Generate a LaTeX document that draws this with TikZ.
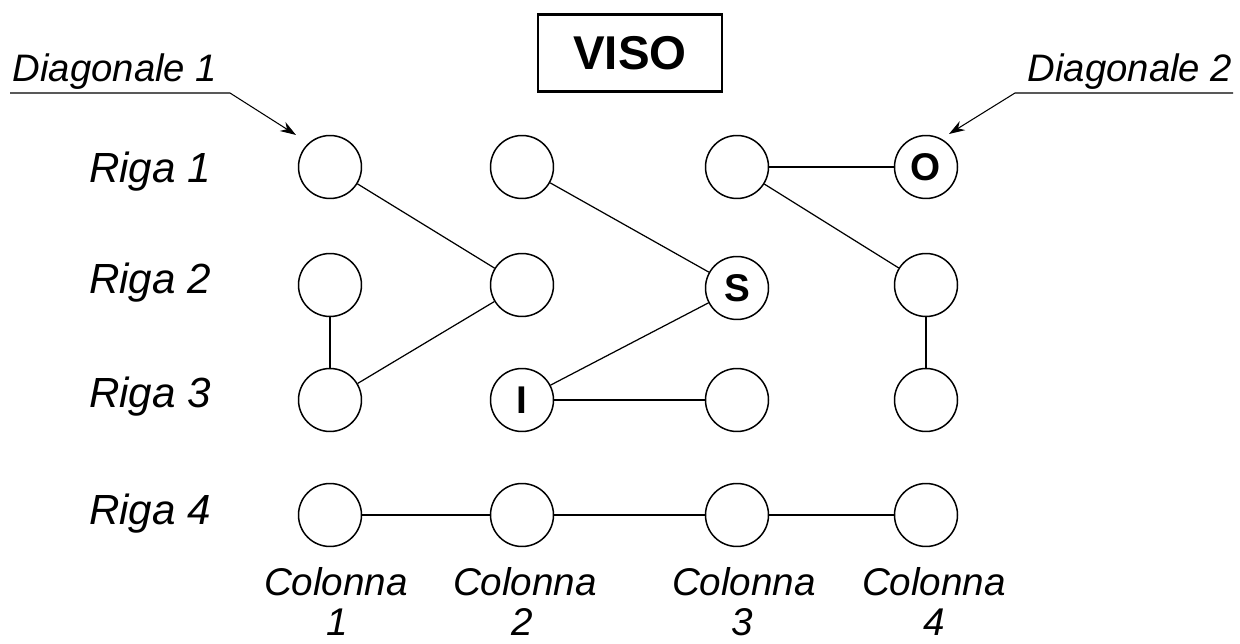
\documentclass[tikz,border=0pt]{standalone}
\usepackage{fontspec}
\setmainfont{Liberation Sans}
\usetikzlibrary{arrows.meta}
\begin{document}
\begin{tikzpicture}[x=0.02cm,y=-0.02cm,
  dot/.style={circle,draw,line width=0.85pt,minimum size=1.26cm,inner sep=0pt,font=\fontsize{22}{24}\selectfont\bfseries},
  link/.style={line width=0.7pt},
  lbl/.style={anchor=base,inner sep=0pt,font=\fontsize{22}{26}\selectfont\itshape},
  rlbl/.style={anchor=base,inner sep=0pt,font=\fontsize{24}{28}\selectfont\itshape},
  dlbl/.style={anchor=base,inner sep=0pt,font=\fontsize{21.8}{25}\selectfont\itshape},
  pointer/.style={line width=0.6pt,-{Stealth[length=9pt,width=6pt]}}]
\useasboundingbox (0,0) rectangle (1240,644);
\fill[white] (0,0) rectangle (1240,644);
% title
\node[draw,line width=1.6pt,minimum width=3.68cm,minimum height=1.54cm,inner sep=0pt,font=\fontsize{27}{30}\selectfont\bfseries] (viso) at (630,53) {VISO};
% circles
\node[dot] (a1) at (330,167) {};
\node[dot] (b1) at (522,167) {};
\node[dot] (c1) at (737,167) {};
\node[dot] (d1) at (926,167) {O};
\node[dot] (a2) at (330,285) {};
\node[dot] (b2) at (522,285) {};
\node[dot] (c2) at (737,288) {S};
\node[dot] (d2) at (926,285) {};
\node[dot] (a3) at (330,400) {};
\node[dot] (b3) at (522,400) {I};
\node[dot] (c3) at (737,400) {};
\node[dot] (d3) at (926,400) {};
\node[dot] (a4) at (330,515) {};
\node[dot] (b4) at (522,515) {};
\node[dot] (c4) at (737,515) {};
\node[dot] (d4) at (926,515) {};
% links
\draw[link] (a1) -- (b2);
\draw[link] (b1) -- (c2);
\draw[link] (c1) -- (d1);
\draw[link] (c1) -- (d2);
\draw[link] (a2) -- (a3);
\draw[link] (a3) -- (b2);
\draw[link] (c2) -- (b3);
\draw[link] (b3) -- (c3);
\draw[link] (d2) -- (d3);
\draw[link] (a4) -- (b4);
\draw[link] (b4) -- (c4);
\draw[link] (c4) -- (d4);
% row labels
\node[rlbl] (r1) at (150,183) {Riga 1};
\node[rlbl] (r2) at (150,294) {Riga 2};
\node[rlbl] (r3) at (150,408) {Riga 3};
\node[rlbl] (r4) at (150,525) {Riga 4};
% column labels
\node[lbl] (k1) at (336,595) {Colonna};
\node[lbl] (n1) at (337,635) {1};
\node[lbl] (k2) at (525,595) {Colonna};
\node[lbl] (n2) at (522,635) {2};
\node[lbl] (k3) at (744,595) {Colonna};
\node[lbl] (n3) at (742,635) {3};
\node[lbl] (k4) at (934,595) {Colonna};
\node[lbl] (n4) at (934,635) {4};
% diagonals
\node[dlbl] (g1) at (115,82) {Diagonale 1};
\node[dlbl] (g2) at (1130,82) {Diagonale 2};
\coordinate (p1a) at (10,93);
\coordinate (p1b) at (230,93);
\coordinate (p1c) at (296,135);
\draw[pointer] (p1a) -- (p1b) -- (p1c);
\coordinate (p2a) at (1233,93);
\coordinate (p2b) at (1015,93);
\coordinate (p2c) at (949,134);
\draw[pointer] (p2a) -- (p2b) -- (p2c);
\end{tikzpicture}
\end{document}
